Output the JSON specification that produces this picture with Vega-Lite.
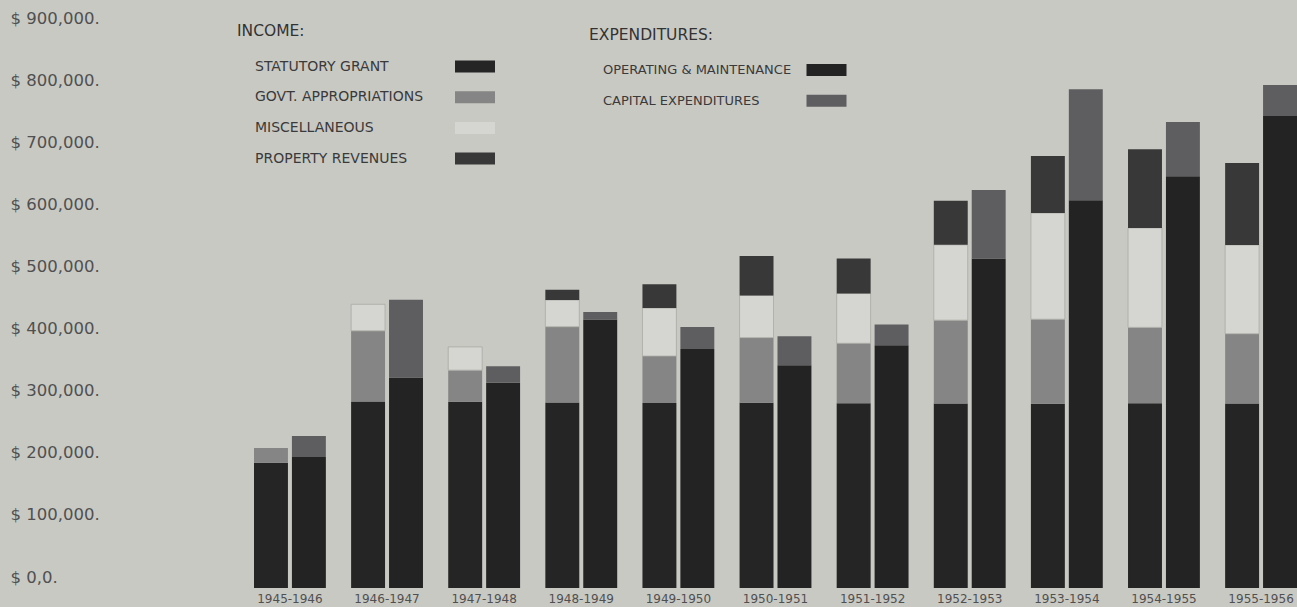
{
  "$schema": "https://vega.github.io/schema/vega-lite/v6.json",
  "width": 1043,
  "height": 559,
  "autosize": {"type": "none"},
  "padding": {"left": 254, "top": 29, "right": 0, "bottom": 19},
  "background": "#c9c9c4",
  "config": {
    "view": {"stroke": null},
    "font": "DejaVu Sans",
    "legend": {
      "orient": "none",
      "titleFont": "DejaVu Sans",
      "titleFontSize": 15.5,
      "titleFontWeight": "normal",
      "titleColor": "#333333",
      "titlePadding": 20,
      "titleAnchor": "start",
      "labelFont": "DejaVu Sans",
      "labelFontSize": 14,
      "labelColor": "#3a3a3a",
      "labelOffset": 4,
      "labelLimit": 400,
      "symbolType": "M211,-6H251V6H211Z",
      "symbolSize": 4,
      "symbolStrokeWidth": 0,
      "rowPadding": 16.7,
      "padding": 0
    }
  },
  "datasets": {
    "income": [
      {"period": "1945-1946", "side": "Income", "category": "STATUTORY GRANT", "value": 201800, "ord": 1},
      {"period": "1945-1946", "side": "Income", "category": "GOVT. APPROPRIATIONS", "value": 23600, "ord": 2},
      {"period": "1946-1947", "side": "Income", "category": "STATUTORY GRANT", "value": 300200, "ord": 1},
      {"period": "1946-1947", "side": "Income", "category": "GOVT. APPROPRIATIONS", "value": 113800, "ord": 2},
      {"period": "1946-1947", "side": "Income", "category": "MISCELLANEOUS", "value": 42800, "ord": 3},
      {"period": "1947-1948", "side": "Income", "category": "STATUTORY GRANT", "value": 299700, "ord": 1},
      {"period": "1947-1948", "side": "Income", "category": "GOVT. APPROPRIATIONS", "value": 51000, "ord": 2},
      {"period": "1947-1948", "side": "Income", "category": "MISCELLANEOUS", "value": 37500, "ord": 3},
      {"period": "1948-1949", "side": "Income", "category": "STATUTORY GRANT", "value": 298700, "ord": 1},
      {"period": "1948-1949", "side": "Income", "category": "GOVT. APPROPRIATIONS", "value": 121900, "ord": 2},
      {"period": "1948-1949", "side": "Income", "category": "MISCELLANEOUS", "value": 43000, "ord": 3},
      {"period": "1948-1949", "side": "Income", "category": "PROPERTY REVENUES", "value": 16600, "ord": 4},
      {"period": "1949-1950", "side": "Income", "category": "STATUTORY GRANT", "value": 297700, "ord": 1},
      {"period": "1949-1950", "side": "Income", "category": "GOVT. APPROPRIATIONS", "value": 75700, "ord": 2},
      {"period": "1949-1950", "side": "Income", "category": "MISCELLANEOUS", "value": 77300, "ord": 3},
      {"period": "1949-1950", "side": "Income", "category": "PROPERTY REVENUES", "value": 38200, "ord": 4},
      {"period": "1950-1951", "side": "Income", "category": "STATUTORY GRANT", "value": 298400, "ord": 1},
      {"period": "1950-1951", "side": "Income", "category": "GOVT. APPROPRIATIONS", "value": 104700, "ord": 2},
      {"period": "1950-1951", "side": "Income", "category": "MISCELLANEOUS", "value": 67900, "ord": 3},
      {"period": "1950-1951", "side": "Income", "category": "PROPERTY REVENUES", "value": 63600, "ord": 4},
      {"period": "1951-1952", "side": "Income", "category": "STATUTORY GRANT", "value": 297400, "ord": 1},
      {"period": "1951-1952", "side": "Income", "category": "GOVT. APPROPRIATIONS", "value": 96600, "ord": 2},
      {"period": "1951-1952", "side": "Income", "category": "MISCELLANEOUS", "value": 80100, "ord": 3},
      {"period": "1951-1952", "side": "Income", "category": "PROPERTY REVENUES", "value": 56300, "ord": 4},
      {"period": "1952-1953", "side": "Income", "category": "STATUTORY GRANT", "value": 297100, "ord": 1},
      {"period": "1952-1953", "side": "Income", "category": "GOVT. APPROPRIATIONS", "value": 134100, "ord": 2},
      {"period": "1952-1953", "side": "Income", "category": "MISCELLANEOUS", "value": 121300, "ord": 3},
      {"period": "1952-1953", "side": "Income", "category": "PROPERTY REVENUES", "value": 70800, "ord": 4},
      {"period": "1953-1954", "side": "Income", "category": "STATUTORY GRANT", "value": 296600, "ord": 1},
      {"period": "1953-1954", "side": "Income", "category": "GOVT. APPROPRIATIONS", "value": 136100, "ord": 2},
      {"period": "1953-1954", "side": "Income", "category": "MISCELLANEOUS", "value": 171000, "ord": 3},
      {"period": "1953-1954", "side": "Income", "category": "PROPERTY REVENUES", "value": 91800, "ord": 4},
      {"period": "1954-1955", "side": "Income", "category": "STATUTORY GRANT", "value": 297300, "ord": 1},
      {"period": "1954-1955", "side": "Income", "category": "GOVT. APPROPRIATIONS", "value": 122300, "ord": 2},
      {"period": "1954-1955", "side": "Income", "category": "MISCELLANEOUS", "value": 160100, "ord": 3},
      {"period": "1954-1955", "side": "Income", "category": "PROPERTY REVENUES", "value": 126600, "ord": 4},
      {"period": "1955-1956", "side": "Income", "category": "STATUTORY GRANT", "value": 297000, "ord": 1},
      {"period": "1955-1956", "side": "Income", "category": "GOVT. APPROPRIATIONS", "value": 112300, "ord": 2},
      {"period": "1955-1956", "side": "Income", "category": "MISCELLANEOUS", "value": 143000, "ord": 3},
      {"period": "1955-1956", "side": "Income", "category": "PROPERTY REVENUES", "value": 132100, "ord": 4}
    ],
    "expend": [
      {"period": "1945-1946", "side": "Expenditures", "category": "OPERATING & MAINTENANCE", "value": 211000, "ord": 1},
      {"period": "1945-1946", "side": "Expenditures", "category": "CAPITAL EXPENDITURES", "value": 33800, "ord": 2},
      {"period": "1946-1947", "side": "Expenditures", "category": "OPERATING & MAINTENANCE", "value": 338800, "ord": 1},
      {"period": "1946-1947", "side": "Expenditures", "category": "CAPITAL EXPENDITURES", "value": 125100, "ord": 2},
      {"period": "1947-1948", "side": "Expenditures", "category": "OPERATING & MAINTENANCE", "value": 330300, "ord": 1},
      {"period": "1947-1948", "side": "Expenditures", "category": "CAPITAL EXPENDITURES", "value": 26900, "ord": 2},
      {"period": "1948-1949", "side": "Expenditures", "category": "OPERATING & MAINTENANCE", "value": 432400, "ord": 1},
      {"period": "1948-1949", "side": "Expenditures", "category": "CAPITAL EXPENDITURES", "value": 11900, "ord": 2},
      {"period": "1949-1950", "side": "Expenditures", "category": "OPERATING & MAINTENANCE", "value": 384700, "ord": 1},
      {"period": "1949-1950", "side": "Expenditures", "category": "CAPITAL EXPENDITURES", "value": 35400, "ord": 2},
      {"period": "1950-1951", "side": "Expenditures", "category": "OPERATING & MAINTENANCE", "value": 358600, "ord": 1},
      {"period": "1950-1951", "side": "Expenditures", "category": "CAPITAL EXPENDITURES", "value": 46700, "ord": 2},
      {"period": "1951-1952", "side": "Expenditures", "category": "OPERATING & MAINTENANCE", "value": 390800, "ord": 1},
      {"period": "1951-1952", "side": "Expenditures", "category": "CAPITAL EXPENDITURES", "value": 33400, "ord": 2},
      {"period": "1952-1953", "side": "Expenditures", "category": "OPERATING & MAINTENANCE", "value": 530600, "ord": 1},
      {"period": "1952-1953", "side": "Expenditures", "category": "CAPITAL EXPENDITURES", "value": 110000, "ord": 2},
      {"period": "1953-1954", "side": "Expenditures", "category": "OPERATING & MAINTENANCE", "value": 624300, "ord": 1},
      {"period": "1953-1954", "side": "Expenditures", "category": "CAPITAL EXPENDITURES", "value": 178800, "ord": 2},
      {"period": "1954-1955", "side": "Expenditures", "category": "OPERATING & MAINTENANCE", "value": 662800, "ord": 1},
      {"period": "1954-1955", "side": "Expenditures", "category": "CAPITAL EXPENDITURES", "value": 87300, "ord": 2},
      {"period": "1955-1956", "side": "Expenditures", "category": "OPERATING & MAINTENANCE", "value": 760000, "ord": 1},
      {"period": "1955-1956", "side": "Expenditures", "category": "CAPITAL EXPENDITURES", "value": 50000, "ord": 2}
    ]
  },
  "encoding": {
    "x": {
      "field": "period",
      "type": "nominal",
      "scale": {
        "domain": ["1945-1946", "1946-1947", "1947-1948", "1948-1949", "1949-1950", "1950-1951", "1951-1952", "1952-1953", "1953-1954", "1954-1955", "1955-1956"],
        "paddingInner": 0.26,
        "paddingOuter": 0
      },
      "axis": {
        "title": null,
        "ticks": false,
        "domain": false,
        "grid": false,
        "labelAngle": 0,
        "labelFont": "DejaVu Sans",
        "labelFontSize": 12,
        "labelColor": "#505050",
        "labelPadding": 5
      }
    },
    "xOffset": {
      "field": "side",
      "type": "nominal",
      "scale": {"domain": ["Income", "Expenditures"], "paddingInner": 0.105, "paddingOuter": 0}
    },
    "y": {
      "field": "value",
      "type": "quantitative",
      "stack": "zero",
      "scale": {"domain": [0, 900000], "nice": false},
      "axis": {
        "title": null,
        "values": [0, 100000, 200000, 300000, 400000, 500000, 600000, 700000, 800000, 900000],
        "labelExpr": "datum.value === 0 ? '$ 0,0.' : '$ ' + format(datum.value, ',') + '.'",
        "ticks": false,
        "tickSize": 0,
        "domain": false,
        "grid": false,
        "labelAlign": "left",
        "labelBaseline": "middle",
        "labelPadding": 244,
        "labelOffset": -11,
        "labelFont": "DejaVu Sans",
        "labelFontSize": 16.5,
        "labelColor": "#505050",
        "labelFlush": false,
        "labelOverlap": false
      }
    }
  },
  "layer": [
    {
      "data": {"name": "income"},
      "mark": {"type": "bar"},
      "encoding": {
        "color": {
          "field": "category",
          "type": "nominal",
          "scale": {
            "domain": ["STATUTORY GRANT", "GOVT. APPROPRIATIONS", "MISCELLANEOUS", "PROPERTY REVENUES"],
            "range": ["#252525", "#858585", "#d5d5d1", "#383838"]
          },
          "legend": {"title": "INCOME:", "legendX": -17, "legendY": -5}
        },
        "order": {"field": "ord", "type": "quantitative"},
        "stroke": {"condition": {"test": "datum.category === 'MISCELLANEOUS'", "value": "#a9a9a4"}, "value": null},
        "strokeWidth": {"value": 0.8}
      }
    },
    {
      "data": {"name": "expend"},
      "mark": {"type": "bar"},
      "encoding": {
        "color": {
          "field": "category",
          "type": "nominal",
          "scale": {
            "domain": ["OPERATING & MAINTENANCE", "CAPITAL EXPENDITURES"],
            "range": ["#232323", "#5e5e60"]
          },
          "legend": {"title": "EXPENDITURES:", "legendX": 335, "legendY": -1, "labelFontSize": 13, "labelOffset": 1}
        },
        "order": {"field": "ord", "type": "quantitative"}
      }
    }
  ],
  "resolve": {"scale": {"color": "independent"}}
}
